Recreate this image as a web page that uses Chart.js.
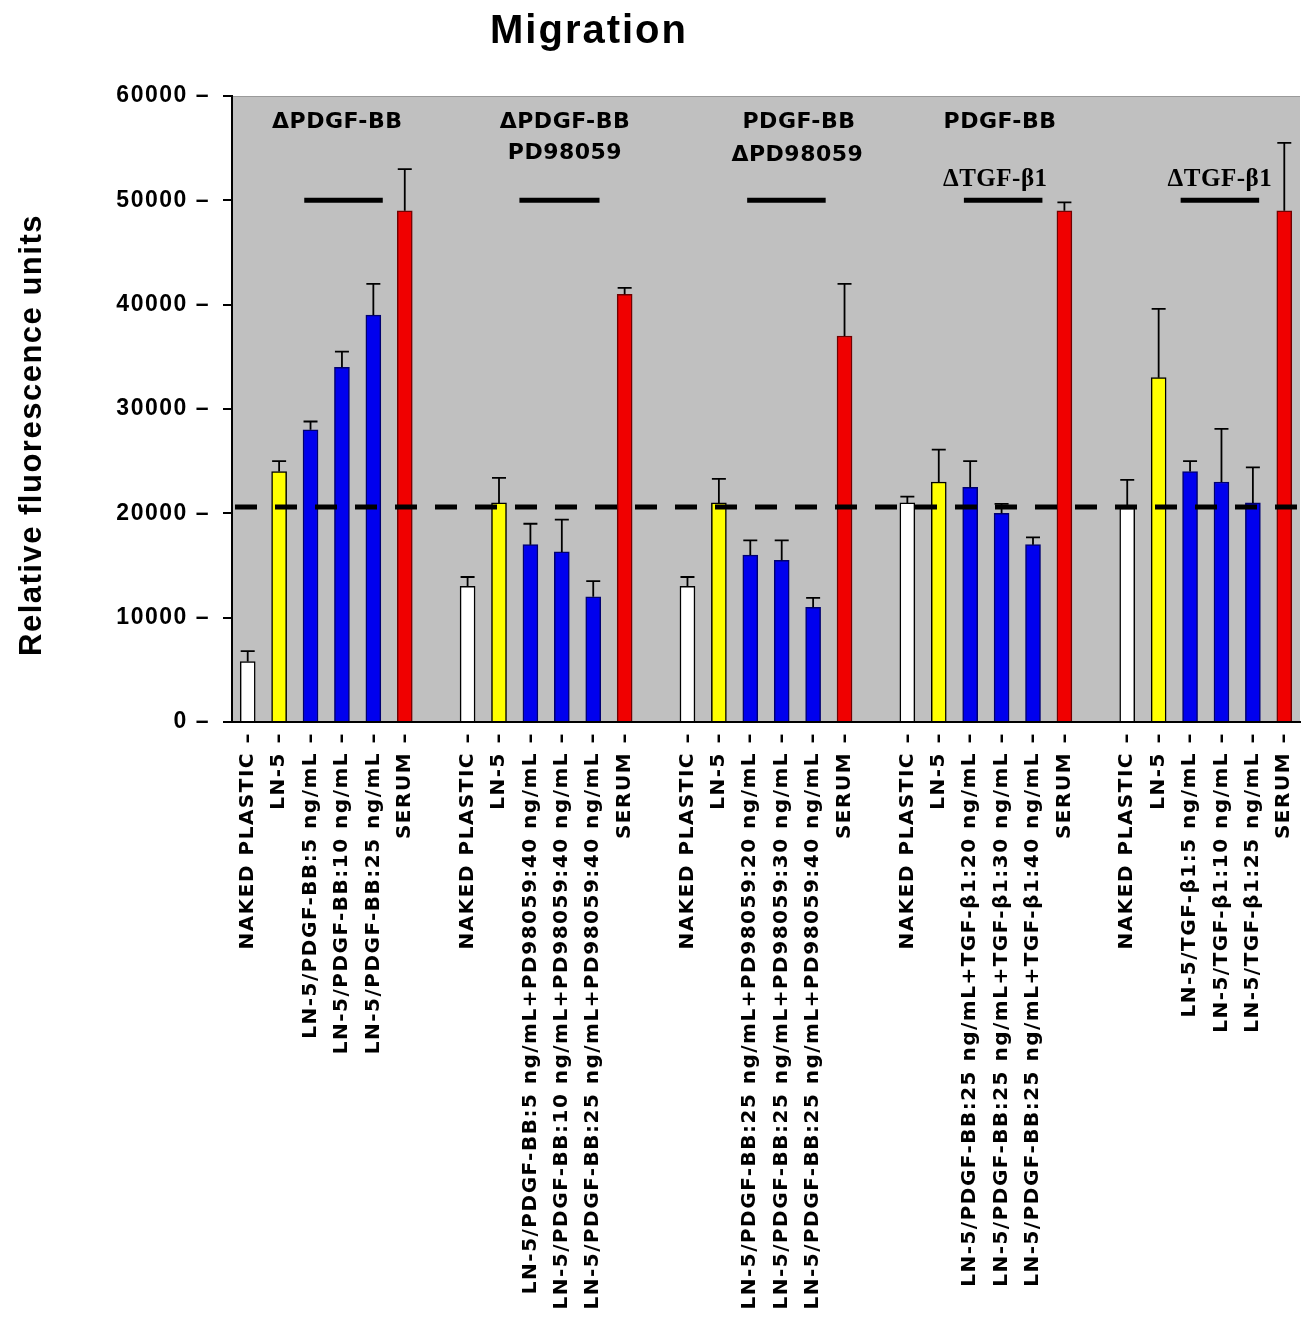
<!DOCTYPE html>
<html lang="en">
<head>
<meta charset="UTF-8">
<title>Migration</title>
<script src="https://cdn.jsdelivr.net/npm/chart.js@4.4.0/dist/chart.umd.min.js"></script>
<style>
  body { margin: 0; background: #fff; }
</style>
</head>
<body>
<canvas id="migration-chart" width="1302" height="1324"></canvas>

<script>
    // five groups of six bars, an empty slot between groups
    const labels = [
        'NAKED PLASTIC', 'LN-5', 'LN-5/PDGF-BB:5 ng/mL', 'LN-5/PDGF-BB:10 ng/mL', 'LN-5/PDGF-BB:25 ng/mL', 'SERUM', '',
        'NAKED PLASTIC', 'LN-5', 'LN-5/PDGF-BB:5 ng/mL+PD98059:40 ng/mL', 'LN-5/PDGF-BB:10 ng/mL+PD98059:40 ng/mL', 'LN-5/PDGF-BB:25 ng/mL+PD98059:40 ng/mL', 'SERUM', '',
        'NAKED PLASTIC', 'LN-5', 'LN-5/PDGF-BB:25 ng/mL+PD98059:20 ng/mL', 'LN-5/PDGF-BB:25 ng/mL+PD98059:30 ng/mL', 'LN-5/PDGF-BB:25 ng/mL+PD98059:40 ng/mL', 'SERUM', '',
        'NAKED PLASTIC', 'LN-5', 'LN-5/PDGF-BB:25 ng/mL+TGF-β1:20 ng/mL', 'LN-5/PDGF-BB:25 ng/mL+TGF-β1:30 ng/mL', 'LN-5/PDGF-BB:25 ng/mL+TGF-β1:40 ng/mL', 'SERUM', '',
        'NAKED PLASTIC', 'LN-5', 'LN-5/TGF-β1:5 ng/mL', 'LN-5/TGF-β1:10 ng/mL', 'LN-5/TGF-β1:25 ng/mL', 'SERUM'
    ];
    const means = [
        5800, 24000, 28000, 34000, 39000, 49000, null,
        13000, 21000, 17000, 16300, 12000, 41000, null,
        13000, 21000, 16000, 15500, 11000, 37000, null,
        21000, 23000, 22500, 20000, 17000, 49000, null,
        20500, 33000, 24000, 23000, 21000, 49000
    ];
    // top of each error bar
    const upper = [
        6800, 25000, 28800, 35500, 42000, 53000, null,
        13900, 23400, 19000, 19400, 13500, 41600, null,
        13900, 23300, 17400, 17400, 11900, 42000, null,
        21600, 26100, 25000, 20900, 17700, 49800, null,
        23200, 39600, 25000, 28100, 24400, 55500
    ];
    const yTicks = [0, 10000, 20000, 30000, 40000, 50000, 60000];
    const baseline = 20600;

    const fillByPos = ['#ffffff', '#ffff00', '#0000ee', '#0000ee', '#0000ee', '#f00000'];
    const edgeByPos = ['#000000', '#000000', '#000070', '#000070', '#000070', '#700000'];

    // group notes: text, category position, value position
    const noteText = ['ΔPDGF-BB', 'ΔPDGF-BB', 'PD98059', 'PDGF-BB', 'ΔPD98059', 'PDGF-BB', 'ΔTGF-β1', 'ΔTGF-β1'];
    const noteAt = [2.85, 10.1, 10.1, 17.55, 17.5, 23.95, 23.8, 30.95];
    const noteVal = [57500, 57500, 54500, 57500, 54300, 57500, 52000, 52000];
    const noteSerif = [false, false, false, false, false, false, true, true];
    // treatment bars marked with a line at 50000
    const barLineFrom = [1.8, 8.65, 15.9, 22.8, 29.7];
    const barLineTo = [4.3, 11.2, 18.4, 25.3, 32.2];
    const barLineVal = 50000;

    const posInGroup = labels.map((l, i) => i % 7);

    const extras = {
        id: 'extras',
        beforeLayout(chart) {
            chart.ctx.letterSpacing = '1.5px';
        },
        beforeDraw(chart) {
            const {ctx, chartArea: a} = chart;
            ctx.letterSpacing = '1.5px';
            ctx.save();
            ctx.fillStyle = '#c0c0c0';
            ctx.fillRect(a.left, a.top, a.right - a.left, a.bottom - a.top);
            ctx.strokeStyle = '#9a9a9a';
            ctx.lineWidth = 1;
            ctx.beginPath();
            ctx.moveTo(a.left, a.top + 0.5);
            ctx.lineTo(a.right, a.top + 0.5);
            ctx.stroke();
            ctx.restore();
        },
        afterDatasetsDraw(chart) {
            const {ctx, chartArea: a} = chart;
            const x = chart.scales.x, y = chart.scales.y;
            ctx.save();

            // error bars (upper only)
            ctx.strokeStyle = '#000';
            ctx.lineWidth = 1.8;
            upper.forEach((u, i) => {
                if (u === null) return;
                const px = x.getPixelForValue(i);
                const top = y.getPixelForValue(u);
                ctx.beginPath();
                ctx.moveTo(px, y.getPixelForValue(means[i]));
                ctx.lineTo(px, top);
                ctx.moveTo(px - 7, top);
                ctx.lineTo(px + 7, top);
                ctx.stroke();
            });

            // dashed reference line
            const by = y.getPixelForValue(baseline);
            ctx.lineWidth = 5;
            ctx.setLineDash([22, 18]);
            ctx.beginPath();
            ctx.moveTo(a.left + 3, by);
            ctx.lineTo(a.right, by);
            ctx.stroke();
            ctx.setLineDash([]);

            // treatment lines
            const ly = y.getPixelForValue(barLineVal);
            ctx.lineWidth = 5;
            barLineFrom.forEach((f, i) => {
                ctx.beginPath();
                ctx.moveTo(x.getPixelForValue(f), ly);
                ctx.lineTo(x.getPixelForValue(barLineTo[i]), ly);
                ctx.stroke();
            });

            // group notes
            ctx.fillStyle = '#000';
            ctx.textAlign = 'center';
            ctx.textBaseline = 'middle';
            noteText.forEach((t, i) => {
                if (noteSerif[i]) {
                    ctx.font = 'bold 25px "Liberation Serif"';
                    ctx.letterSpacing = '0.5px';
                } else {
                    ctx.font = 'bold 22px "DejaVu Sans"';
                    ctx.letterSpacing = '0.5px';
                }
                ctx.fillText(t, x.getPixelForValue(noteAt[i]), y.getPixelForValue(noteVal[i]));
            });
            ctx.restore();
        },
        afterDraw(chart) {
            const {ctx} = chart;
            ctx.save();
            ctx.fillStyle = '#000';
            ctx.textAlign = 'center';
            ctx.textBaseline = 'alphabetic';
            ctx.font = 'bold 40px "Liberation Sans"';
            ctx.letterSpacing = '2px';
            ctx.fillText('Migration', 589, 43);

            ctx.translate(32, 435);
            ctx.rotate(-Math.PI / 2);
            ctx.textBaseline = 'middle';
            ctx.font = 'bold 31px "Liberation Sans"';
            ctx.letterSpacing = '1.5px';
            ctx.fillText('Relative fluorescence units', 0, 0);
            ctx.restore();
        }
    };

    new Chart('migration-chart', {
        type: 'bar',
        data: {
            labels: labels,
            datasets: [{
                data: means,
                backgroundColor: posInGroup.map(p => fillByPos[p] || 'transparent'),
                borderColor: posInGroup.map(p => edgeByPos[p] || 'transparent'),
                borderWidth: 1.5,
                barThickness: 15,
                skipNull: true
            }]
        },
        options: {
            responsive: false,
            animation: false,
            layout: {
                padding: {top: 96, right: 2, left: 0, bottom: 0}
            },
            plugins: {
                legend: {display: false},
                tooltip: {enabled: false},
                title: {display: false}
            },
            scales: {
                x: {
                    afterFit: scale => {
                        scale.height = 602;
                        scale.paddingLeft = 0;
                        scale.paddingRight = 0;
                    },
                    grid: {display: false, drawTicks: false},
                    border: {display: true, color: '#000', width: 2},
                    ticks: {
                        autoSkip: false,
                        minRotation: 90,
                        maxRotation: 90,
                        padding: 10,
                        color: '#000',
                        font: {family: '"DejaVu Sans"', weight: 'bold', size: 20},
                        callback: function(v, i) {
                            return labels[i] ? labels[i] + ' –' : '';
                        }
                    }
                },
                y: {
                    min: 0,
                    max: 60000,
                    afterFit: scale => { scale.width = 232; },
                    afterBuildTicks: scale => { scale.ticks = yTicks.map(v => ({value: v})); },
                    grid: {drawOnChartArea: false, color: '#000', lineWidth: 2, tickLength: 9},
                    border: {display: true, color: '#000', width: 2},
                    ticks: {
                        padding: 13,
                        color: '#000',
                        font: {family: '"Liberation Sans"', weight: 'bold', size: 23},
                        callback: v => v + ' –'
                    }
                }
            }
        },
        plugins: [extras]
    });
</script>
</body>
</html>
